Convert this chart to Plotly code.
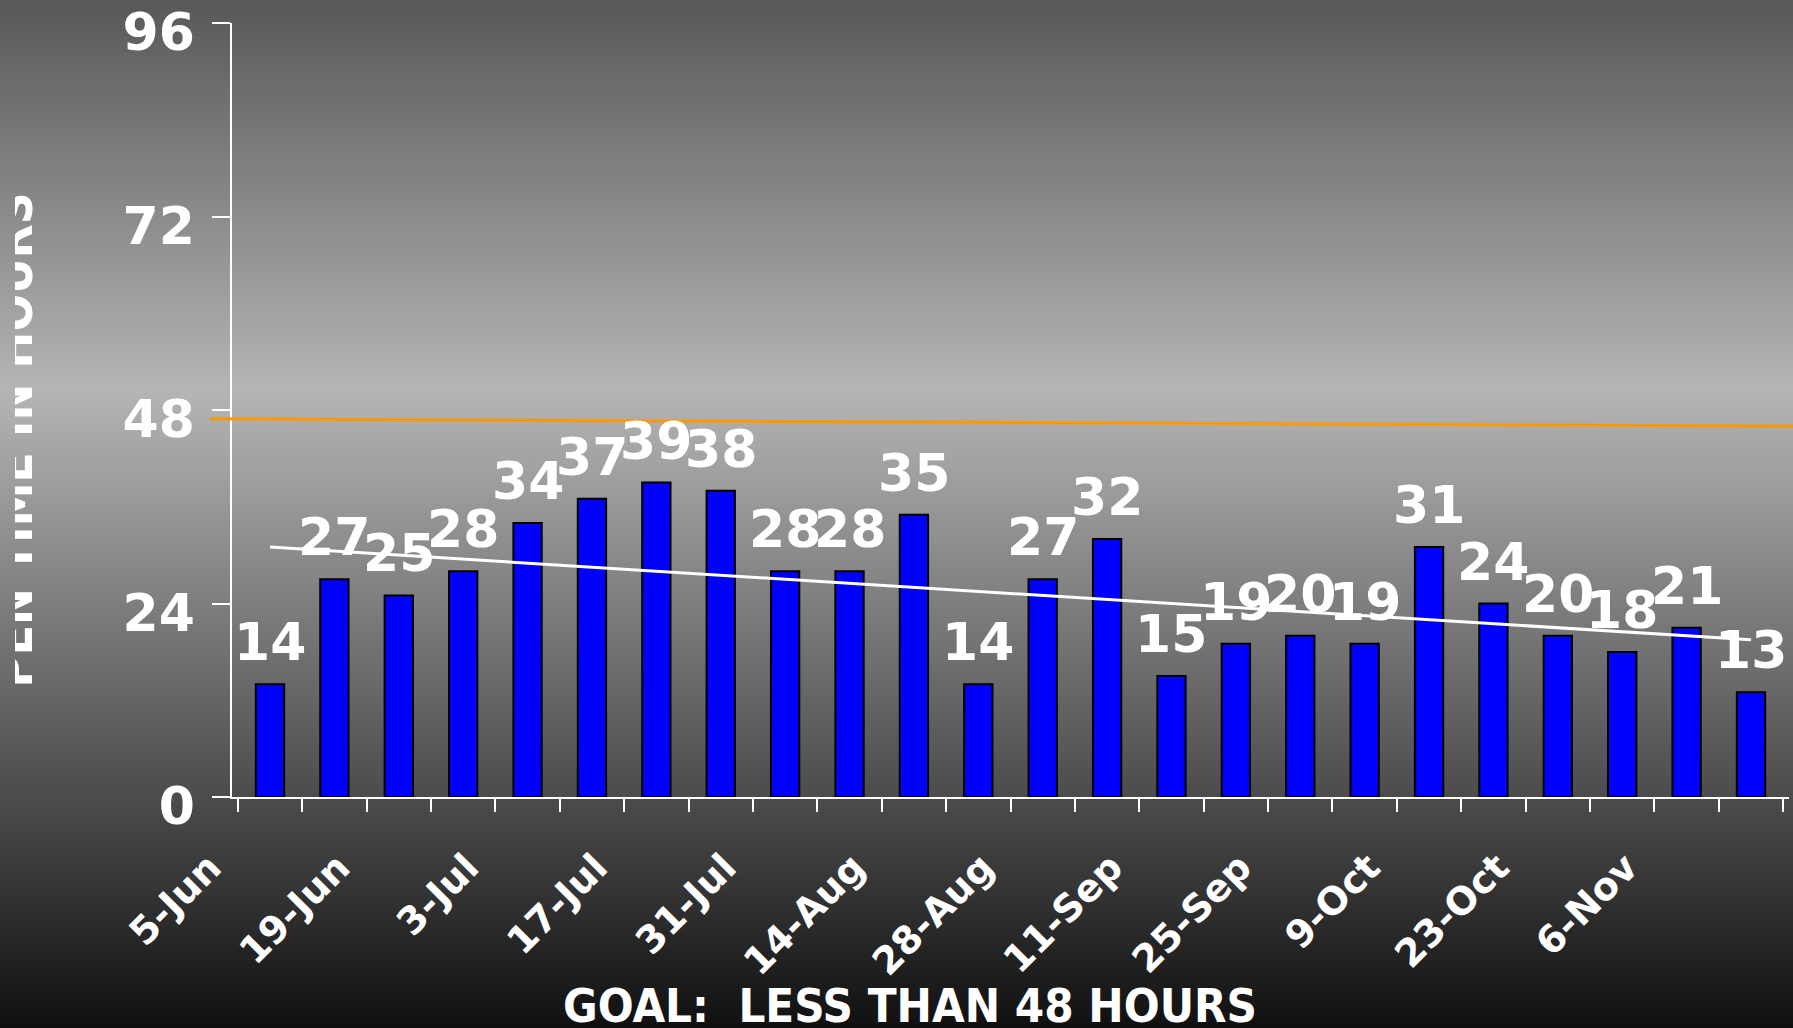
import base64
import struct
import zlib

import numpy as np
import plotly.graph_objects as go

# ---------------- data ----------------
weeks = ["5-Jun", "12-Jun", "19-Jun", "26-Jun", "3-Jul", "10-Jul", "17-Jul", "24-Jul",
         "31-Jul", "7-Aug", "14-Aug", "21-Aug", "28-Aug", "4-Sep", "11-Sep", "18-Sep",
         "25-Sep", "2-Oct", "9-Oct", "16-Oct", "23-Oct", "30-Oct", "6-Nov", "13-Nov"]
open_hours = [14, 27, 25, 28, 34, 37, 39, 38, 28, 28, 35, 14, 27, 32, 15, 19, 20, 19,
              31, 24, 20, 18, 21, 13]
tick_labels = [w if i % 2 == 0 else "" for i, w in enumerate(weeks)]
y_ticks = [0, 24, 48, 72, 96]
goal_line = [46.9, 46.0]          # goal marker line, left end / right end (hours)
y_title = "PEN TIME IN HOURS"
x_title = "GOAL:  LESS THAN 48 HOURS"

# linear trend line (least squares) of the weekly values
coef = np.polyfit(np.arange(len(open_hours)), open_hours, 1)
trend = np.polyval(coef, np.arange(len(open_hours)))

# ---------------- geometry / style ----------------
W, H = 1793, 1028
PL, PR, PT, PB = 232, 1789, 23, 797
FONT = "DejaVu Sans"
COND = "DejaVu Sans Condensed, DejaVu Sans"


def gradient_png(stops, n):
    vals = []
    for i in range(n):
        t = i / (n - 1)
        for (t0, v0), (t1, v1) in zip(stops[:-1], stops[1:]):
            if t0 <= t <= t1:
                v = v0 + (v1 - v0) * (t - t0) / (t1 - t0)
                break
        vals.append(int(round(v)))
    raw = b"".join(b"\x00" + bytes([v]) for v in vals)

    def chunk(tag, data):
        return (struct.pack(">I", len(data)) + tag + data
                + struct.pack(">I", zlib.crc32(tag + data) & 0xFFFFFFFF))

    png = (b"\x89PNG\r\n\x1a\n"
           + chunk(b"IHDR", struct.pack(">IIBBBBB", 1, n, 8, 0, 0, 0, 0))
           + chunk(b"IDAT", zlib.compress(raw, 9))
           + chunk(b"IEND", b""))
    return "data:image/png;base64," + base64.b64encode(png).decode()


bg = gradient_png([(0.0, 88), (0.38, 181), (1.0, 16)], H)

fig = go.Figure()

fig.add_trace(go.Bar(
    x=weeks, y=open_hours,
    marker=dict(color="#0000FF", line=dict(color="black", width=2)),
    hoverinfo="x+y", showlegend=False,
))

fig.add_trace(go.Scatter(
    x=weeks, y=trend, mode="lines",
    line=dict(color="white", width=3), hoverinfo="skip", showlegend=False,
))

# rotated, clipped y-axis title (bar text clipped by its own small subplot)
fig.add_trace(go.Bar(
    x=[0.015], y=[1], width=[0.03], xaxis="x3", yaxis="y3",
    marker=dict(color="rgba(0,0,0,0)", line=dict(width=0)),
    text=[y_title], textposition="inside", insidetextanchor="middle",
    textangle=-90, constraintext="none", cliponaxis=True,
    insidetextfont=dict(family=COND, size=49, color="white", weight="bold"),
    hoverinfo="skip", showlegend=False,
))

annotations = []
for w, v in zip(weeks, open_hours):
    annotations.append(dict(
        x=w, y=v, xref="x", yref="y", text=str(v), showarrow=False,
        yanchor="bottom", yshift=10,
        font=dict(family=FONT, size=52, color="white", weight="bold"),
    ))
annotations.append(dict(
    x=910 / W, y=0, xref="paper", yref="paper", text=x_title, showarrow=False,
    xanchor="center", yanchor="bottom", yshift=-7,
    font=dict(family=COND, size=47, color="white", weight="bold"),
))

fig.update_layout(
    width=W, height=H,
    margin=dict(l=0, r=0, t=0, b=0, autoexpand=False),
    paper_bgcolor="#1a1a1a",
    plot_bgcolor="rgba(0,0,0,0)",
    bargap=0.56,
    showlegend=False,
    images=[dict(source=bg, xref="paper", yref="paper", x=0, y=1,
                 sizex=1, sizey=1, sizing="stretch", layer="below",
                 xanchor="left", yanchor="top")],
    shapes=[dict(type="line", xref="paper", yref="y",
                 x0=210 / W, x1=1.0, y0=goal_line[0], y1=goal_line[1],
                 line=dict(color="#FF9900", width=3), layer="above")],
    annotations=annotations,
    xaxis=dict(
        domain=[PL / W, PR / W], type="category", automargin=False,
        tickvals=weeks, ticktext=tick_labels, tickangle=-45,
        tickson="boundaries", ticks="outside", ticklen=13, tickwidth=1.5,
        tickcolor="white", showline=True, linecolor="white", linewidth=1.5,
        showgrid=False, zeroline=False, ticklabeloverflow="allow",
        tickfont=dict(family=FONT, size=38, color="white", weight="bold"),
        ticklabelstandoff=31, ticklabelshift=-60,
    ),
    yaxis=dict(
        domain=[1 - PB / H, 1 - PT / H], range=[0, 96], automargin=False,
        tickvals=y_ticks, ticks="outside", ticklen=18, tickwidth=1.5,
        tickcolor="white", showline=True, linecolor="white", linewidth=1.5,
        showgrid=False, zeroline=False, ticklabeloverflow="allow",
        tickfont=dict(family=FONT, size=52, color="white", weight="bold"),
        ticklabelstandoff=7, ticklabelshift=9,
    ),
    xaxis3=dict(domain=[15 / W, 80 / W], range=[0, 1], visible=False,
                anchor="y3", fixedrange=True, automargin=False),
    yaxis3=dict(domain=[0.144, 1.0], range=[0, 1], visible=False,
                anchor="x3", fixedrange=True, automargin=False),
)

fig.write_html(
    "out.html",
    config={"displayModeBar": False},
    post_script="document.body.style.margin='0px';"
                "document.body.style.overflow='hidden';",
)
